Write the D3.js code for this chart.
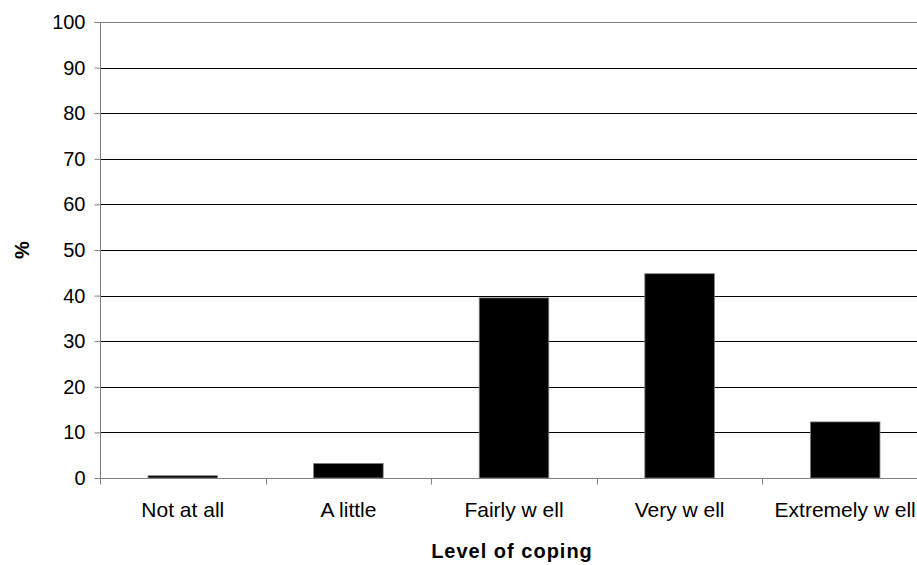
<!DOCTYPE html>
<html>
<head>
<meta charset="utf-8">
<script src="https://cdn.jsdelivr.net/npm/d3@7"></script>
<style>
  html, body { margin: 0; padding: 0; background: #fff; }
  svg { display: block; font-family: "Liberation Sans", Arial, sans-serif; }
</style>
</head>
<body>
<svg id="chart" width="917" height="565"></svg>
<script>
// Share of respondents by level of coping (%)
const categories = ["Not at all", "A little", "Fairly w ell", "Very w ell", "Extremely w ell"];
const values = [0.5, 3.2, 39.5, 44.8, 12.3];
const yTicks = [0, 10, 20, 30, 40, 50, 60, 70, 80, 90, 100];

const svg = d3.select("#chart");
const plot = { left: 100, top: 22, right: 928, bottom: 478 };

const y = d3.scaleLinear().domain([0, 100]).range([plot.bottom, plot.top]);
const xCat = d3.scaleBand().domain(categories).range([plot.left, plot.right]).padding(0);
const xBar = d3.scaleBand().domain(categories).range([plot.left, plot.right])
  .paddingInner(0.58).paddingOuter(0.29);

// horizontal gridlines
svg.append("g")
  .selectAll("line")
  .data(yTicks.filter(t => t > 0 && t < 100))
  .join("line")
  .attr("x1", plot.left).attr("x2", plot.right)
  .attr("y1", d => Math.round(y(d)) + 0.5).attr("y2", d => Math.round(y(d)) + 0.5)
  .attr("stroke", "#000").attr("stroke-width", 1);

// plot area top border
svg.append("line")
  .attr("x1", plot.left).attr("x2", plot.right)
  .attr("y1", Math.round(y(100)) + 0.5).attr("y2", Math.round(y(100)) + 0.5)
  .attr("stroke", "#808080").attr("stroke-width", 1);

// bars
svg.append("g")
  .selectAll("rect")
  .data(categories.map((c, i) => ({ c, v: values[i] })))
  .join("rect")
  .attr("x", d => xBar(d.c))
  .attr("width", xBar.bandwidth())
  .attr("y", d => y(d.v))
  .attr("height", d => y(0) - y(d.v))
  .attr("fill", "#000")
  .attr("stroke", "#808080")
  .attr("stroke-width", 0.8);

// y axis
const yAxis = svg.append("g")
  .attr("transform", `translate(${plot.left + 0.5},0)`)
  .call(d3.axisLeft(y).tickValues(yTicks).tickSize(6).tickPadding(9).tickFormat(d3.format("d")));
yAxis.select(".domain").attr("stroke", "#808080").attr("d", `M-6,${plot.top + 0.5}H0V${plot.bottom + 0.5}`);
yAxis.selectAll(".tick line").attr("stroke", "#808080");
yAxis.selectAll(".tick text")
  .attr("font-size", 20).attr("fill", "#000")
  .attr("font-family", "Liberation Sans, Arial, sans-serif");

// x axis: ticks at category boundaries, labels centred in each band
const xg = svg.append("g").attr("transform", `translate(0,${plot.bottom + 0.5})`);
xg.append("line")
  .attr("x1", plot.left).attr("x2", plot.right)
  .attr("y1", 0).attr("y2", 0)
  .attr("stroke", "#808080").attr("stroke-width", 1);
const boundaries = categories.map(c => xCat(c)).concat([plot.right]);
xg.selectAll("line.tick")
  .data(boundaries)
  .join("line")
  .attr("class", "tick")
  .attr("x1", d => Math.round(d) + 0.5).attr("x2", d => Math.round(d) + 0.5)
  .attr("y1", 0).attr("y2", 6)
  .attr("stroke", "#808080");
xg.selectAll("text")
  .data(categories)
  .join("text")
  .attr("x", d => xCat(d) + xCat.bandwidth() / 2)
  .attr("y", 38)
  .attr("text-anchor", "middle")
  .attr("font-size", 21)
  .attr("fill", "#000")
  .text(d => d);

// axis titles
svg.append("text")
  .attr("x", 512).attr("y", 558)
  .attr("text-anchor", "middle")
  .attr("font-size", 20).attr("font-weight", "bold")
  .attr("letter-spacing", 1)
  .text("Level of coping");

svg.append("text")
  .attr("transform", `translate(29,${(plot.top + plot.bottom) / 2}) rotate(-90)`)
  .attr("text-anchor", "middle")
  .attr("font-size", 20).attr("font-weight", "bold")
  .text("%");
</script>
</body>
</html>
